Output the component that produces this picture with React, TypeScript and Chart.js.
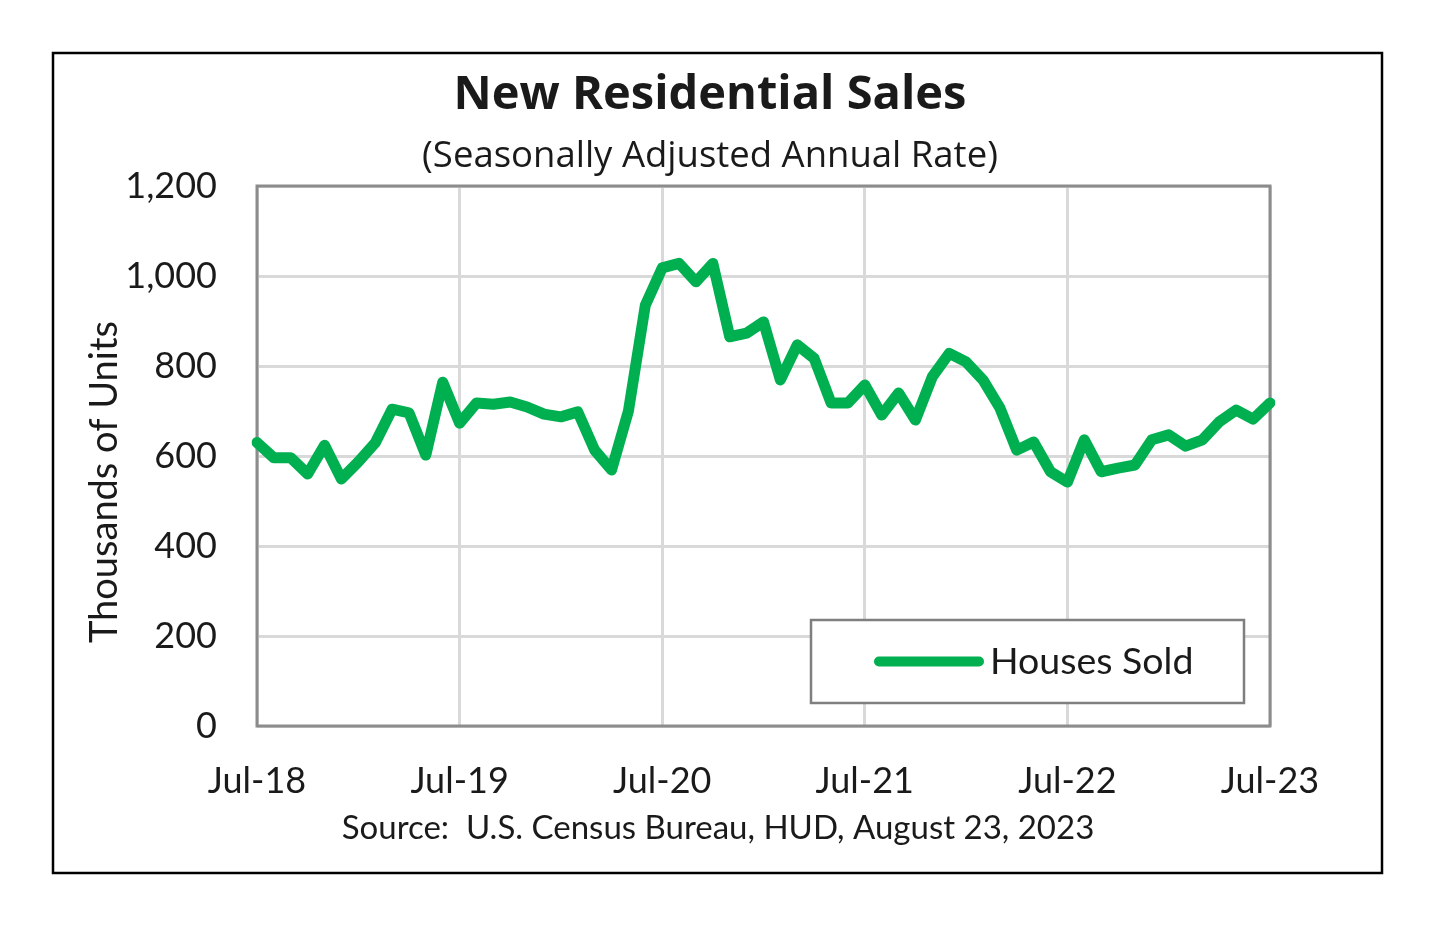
import React, { useEffect, useRef } from "react";
import { Chart, registerables } from "chart.js";

Chart.register(...registerables);

const TITLE = "New Residential Sales";
const SUBTITLE = "(Seasonally Adjusted Annual Rate)";
const Y_TITLE = "Thousands of Units";
const SOURCE = "Source:  U.S. Census Bureau, HUD, August 23, 2023";
const SERIES_LABEL = "Houses Sold";

const MONTHS = [
  "Jul-18", "Aug-18", "Sep-18", "Oct-18", "Nov-18", "Dec-18",
  "Jan-19", "Feb-19", "Mar-19", "Apr-19", "May-19", "Jun-19",
  "Jul-19", "Aug-19", "Sep-19", "Oct-19", "Nov-19", "Dec-19",
  "Jan-20", "Feb-20", "Mar-20", "Apr-20", "May-20", "Jun-20",
  "Jul-20", "Aug-20", "Sep-20", "Oct-20", "Nov-20", "Dec-20",
  "Jan-21", "Feb-21", "Mar-21", "Apr-21", "May-21", "Jun-21",
  "Jul-21", "Aug-21", "Sep-21", "Oct-21", "Nov-21", "Dec-21",
  "Jan-22", "Feb-22", "Mar-22", "Apr-22", "May-22", "Jun-22",
  "Jul-22", "Aug-22", "Sep-22", "Oct-22", "Nov-22", "Dec-22",
  "Jan-23", "Feb-23", "Mar-23", "Apr-23", "May-23", "Jun-23",
  "Jul-23",
];

const HOUSES_SOLD = [
  630, 596, 596, 560, 624, 549, 587, 629, 704, 696, 602, 764,
  673, 718, 715, 720, 709, 693, 687, 698, 613, 569, 700, 935,
  1018, 1028, 987, 1028, 865, 873, 898, 769, 847, 817, 718, 718,
  758, 691, 740, 680, 776, 828, 809, 769, 707, 613, 631, 565,
  542, 636, 565, 573, 580, 636, 647, 622, 636, 676, 702, 682, 718,
];

const Y_MIN = 0;
const Y_MAX = 1200;
const Y_STEP = 200;

const GREEN = "#00B050";
const FONT = "Lato, 'Open Sans', sans-serif";
const TITLE_FONT = "'Open Sans', Lato, sans-serif";
const TEXT = "#1a1a1a";

const decor = {
  id: "decor",
  beforeDraw(chart: any) {
    const { ctx, width, height } = chart;
    ctx.save();
    ctx.fillStyle = "#ffffff";
    ctx.fillRect(0, 0, width, height);
    ctx.restore();
  },
  beforeDatasetsDraw(chart: any) {
    const { ctx, chartArea: a } = chart;
    ctx.save();
    ctx.strokeStyle = "#8c8c8c";
    ctx.lineWidth = 3;
    ctx.strokeRect(a.left, a.top, a.right - a.left, a.bottom - a.top);
    ctx.restore();
  },
  afterDraw(chart: any) {
    const { ctx, chartArea: a } = chart;
    ctx.save();
    // outer frame
    ctx.strokeStyle = "#000";
    ctx.lineWidth = 2.5;
    ctx.strokeRect(53, 53, 1329, 820);

    ctx.fillStyle = TEXT;
    ctx.textAlign = "center";
    ctx.textBaseline = "middle";
    ctx.font = `bold 47px ${TITLE_FONT}`;
    ctx.fillText(TITLE, 710, 96);
    ctx.font = `36.5px ${TITLE_FONT}`;
    ctx.fillText(SUBTITLE, 710, 157);
    ctx.font = `33px ${FONT}`;
    ctx.fillText(SOURCE, 718, 828);

    ctx.save();
    ctx.translate(105, 482);
    ctx.rotate(-Math.PI / 2);
    ctx.font = `38px ${FONT}`;
    ctx.fillText(Y_TITLE, 0, 0);
    ctx.restore();

    // legend
    const ds = chart.data.datasets[0];
    const lx = a.right - 459;
    const ly = a.bottom - 106;
    const lw = 433;
    const lh = 83;
    ctx.fillStyle = "#fff";
    ctx.fillRect(lx, ly, lw, lh);
    ctx.strokeStyle = "#7f7f7f";
    ctx.lineWidth = 2.5;
    ctx.strokeRect(lx, ly, lw, lh);
    ctx.strokeStyle = ds.borderColor;
    ctx.lineWidth = 10;
    ctx.lineCap = "round";
    ctx.beginPath();
    ctx.moveTo(lx + 68, ly + lh / 2);
    ctx.lineTo(lx + 168, ly + lh / 2);
    ctx.stroke();
    ctx.fillStyle = TEXT;
    ctx.textAlign = "left";
    ctx.font = `37.5px ${FONT}`;
    ctx.fillText(ds.label, lx + 179, ly + lh / 2);
    ctx.restore();
  },
};

export default function App() {
  const ref = useRef<HTMLCanvasElement | null>(null);

  useEffect(() => {
    if (!ref.current) return;
    const chart = new Chart(ref.current, {
      type: "line",
      data: {
        labels: MONTHS,
        datasets: [
          {
            label: SERIES_LABEL,
            data: HOUSES_SOLD,
            borderColor: GREEN,
            backgroundColor: GREEN,
            borderWidth: 11,
            pointRadius: 0,
            tension: 0,
            borderJoinStyle: "round",
            borderCapStyle: "round",
          },
        ],
      },
      options: {
        responsive: false,
        animation: false,
        layout: { padding: { left: 0, right: 170, top: 186, bottom: 0 } },
        plugins: {
          legend: { display: false },
          title: { display: false },
          tooltip: { enabled: false },
        },
        scales: {
          x: {
            type: "category",
            offset: false,
            afterFit(scale: any) {
              scale.height = 218;
            },
            border: { display: false },
            grid: {
              drawTicks: false,
              lineWidth: 3,
              color: (c: any) => (c.index % 12 === 0 ? "#d9d9d9" : "rgba(0,0,0,0)"),
            },
            ticks: {
              autoSkip: false,
              maxRotation: 0,
              minRotation: 0,
              padding: 34,
              color: TEXT,
              font: { family: FONT, size: 36 },
              callback: (_v: any, i: number) => (i % 12 === 0 ? MONTHS[i] : ""),
            },
          },
          y: {
            min: Y_MIN,
            max: Y_MAX,
            afterFit(scale: any) {
              scale.width = 257;
            },
            border: { display: false },
            grid: { drawTicks: false, lineWidth: 3, color: "#d9d9d9" },
            ticks: {
              stepSize: Y_STEP,
              padding: 40,
              color: TEXT,
              font: { family: FONT, size: 36 },
              callback: (v: any) => Number(v).toLocaleString("en-US"),
            },
          },
        },
      },
      plugins: [decor],
    });
    return () => chart.destroy();
  }, []);

  return (
    <div style={{ position: "fixed", left: 0, top: 0, width: 1440, height: 944, background: "#fff" }}>
      <canvas ref={ref} width={1440} height={944} style={{ width: 1440, height: 944, display: "block" }} />
    </div>
  );
}
